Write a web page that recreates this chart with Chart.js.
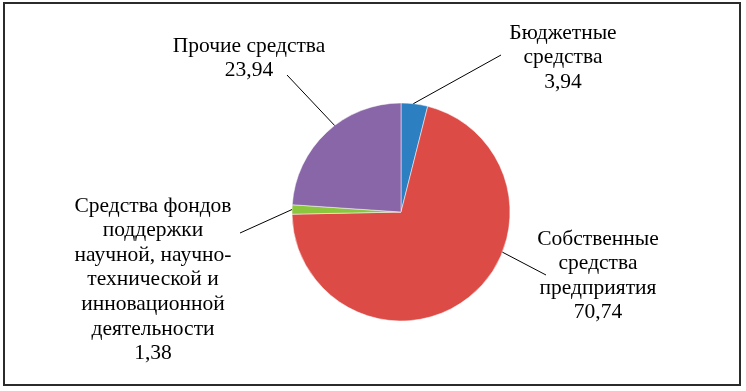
<!DOCTYPE html>
<html>
<head>
<meta charset="utf-8">
<script src="https://cdn.jsdelivr.net/npm/chart.js"></script>
<style>
  html, body { margin: 0; padding: 0; background: #fff; }
  canvas { display: block; }
</style>
</head>
<body>
<canvas id="pie" width="746" height="391"></canvas>
<script>
// данные диаграммы
var categories = [
    ['Бюджетные', 'средства'],
    ['Собственные', 'средства', 'предприятия'],
    ['Средства фондов', 'поддержки', 'научной, научно-', 'технической и', 'инновационной', 'деятельности'],
    ['Прочие средства']
];
var values = [3.94, 70.74, 1.38, 23.94];
var valueLabels = ['3,94', '70,74', '1,38', '23,94'];
var colors = ['#2c7fc1', '#dd4b46', '#8cc63f', '#8866a8'];

// where each callout sits: text centre, first line y, anchor angle on the rim, line end
var callouts = [
    { x: 563, y: 33, angle: 6.5, lx: 501, ly: 55 },
    { x: 598, y: 239, angle: 111.6, lx: 546, ly: 275 },
    { x: 153, y: 206, angle: 271.3, lx: 240, ly: 233 },
    { x: 249, y: 46, angle: 322.5, lx: 287, ly: 75 }
];
var lineStep = 24.6;
var labelFont = '21.5px "Liberation Serif"';

const calloutPlugin = {
    id: 'callouts',
    afterDatasetsDraw(chart) {
        var ctx = chart.ctx;
        var arcs = chart.getDatasetMeta(0).data;
        ctx.save();
        for (var i = 0; i < arcs.length; i++) {
            var a = arcs[i];
            var c = callouts[i];
            var rad = c.angle * Math.PI / 180;
            var px = a.x + a.outerRadius * Math.sin(rad);
            var py = a.y - a.outerRadius * Math.cos(rad);
            ctx.strokeStyle = '#000';
            ctx.lineWidth = 1;
            ctx.beginPath();
            ctx.moveTo(px, py);
            ctx.lineTo(c.lx, c.ly);
            ctx.stroke();

            var lines = categories[i].concat([valueLabels[i]]);
            ctx.fillStyle = '#000';
            ctx.font = labelFont;
            ctx.textAlign = 'center';
            ctx.textBaseline = 'middle';
            for (var j = 0; j < lines.length; j++) {
                ctx.fillText(lines[j], c.x, c.y + j * lineStep);
            }
        }
        ctx.restore();
    }
};

const framePlugin = {
    id: 'frame',
    beforeDraw(chart) {
        var ctx = chart.ctx;
        ctx.save();
        ctx.fillStyle = '#fff';
        ctx.fillRect(0, 0, chart.width, chart.height);
        ctx.strokeStyle = '#2b2b2b';
        ctx.lineWidth = 2;
        ctx.strokeRect(4, 3, 736, 382);
        ctx.restore();
    }
};

const dataPie = {
    labels: categories.map(function (c) { return c.join(' '); }),
    datasets: [{
        data: values,
        backgroundColor: colors,
        borderColor: '#ffffff',
        borderWidth: 0.5
    }]
};

const configPie = {
    type: 'pie',
    data: dataPie,
    options: {
        responsive: false,
        animation: false,
        devicePixelRatio: 1,
        radius: 109,
        layout: {
            padding: { left: 56, right: 0, top: 33, bottom: 0 }
        },
        plugins: {
            legend: { display: false },
            tooltip: { enabled: false }
        }
    },
    plugins: [framePlugin, calloutPlugin]
};

document.fonts.load(labelFont, 'Бюджетные').then(function () {
    new Chart(document.getElementById('pie'), configPie);
}, function () {
    new Chart(document.getElementById('pie'), configPie);
});
</script>
</body>
</html>
